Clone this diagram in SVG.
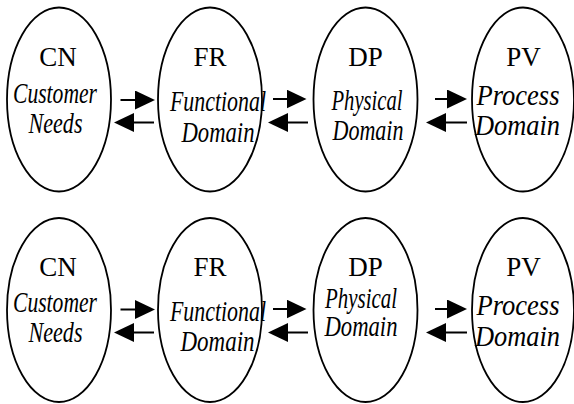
<svg xmlns="http://www.w3.org/2000/svg" width="574" height="404" viewBox="0 0 574 404">
  <style>
    .dom { fill: #fff; stroke: #000; stroke-width: 1.8; }
    .abbr { font-family: "Liberation Serif", "Times New Roman", serif; font-size: 27px; fill: #000; text-anchor: middle; }
    .name { font-family: "Liberation Serif", "Times New Roman", serif; font-size: 28.5px; font-style: italic; fill: #000; }
    .link { stroke: #000; stroke-width: 2; fill: none; marker-end: url(#head); }
  </style>
  <defs>
    <marker id="head" markerUnits="userSpaceOnUse" markerWidth="20" markerHeight="19" refX="10" refY="9.5" orient="auto">
      <path d="M0,0 L20,9.5 L0,19 z" fill="#000"/>
    </marker>
  </defs>
  <rect width="574" height="404" fill="#fff"/>

  <!-- upper chain -->
  <g id="cn-1">
    <ellipse class="dom" cx="59" cy="99.5" rx="52" ry="92"/>
    <text class="abbr" x="58" y="65.5">CN</text>
    <text class="name" x="13" y="103" textLength="84" lengthAdjust="spacingAndGlyphs">Customer</text>
    <text class="name" x="28.5" y="133" textLength="54" lengthAdjust="spacingAndGlyphs">Needs</text>
  </g>
  <g id="fr-1">
    <ellipse class="dom" cx="210" cy="99.5" rx="52" ry="92"/>
    <text class="abbr" x="210" y="65.5">FR</text>
    <text class="name" x="170" y="111" textLength="96" lengthAdjust="spacingAndGlyphs">Functional</text>
    <text class="name" x="181.5" y="141.5" textLength="73" lengthAdjust="spacingAndGlyphs">Domain</text>
  </g>
  <g id="dp-1">
    <ellipse class="dom" cx="365.5" cy="99.5" rx="52" ry="92"/>
    <text class="abbr" x="365.5" y="65.5">DP</text>
    <text class="name" x="331.5" y="110" textLength="71" lengthAdjust="spacingAndGlyphs">Physical</text>
    <text class="name" x="332.5" y="140" textLength="71" lengthAdjust="spacingAndGlyphs">Domain</text>
  </g>
  <g id="pv-1">
    <ellipse class="dom" cx="523" cy="99.5" rx="51" ry="92"/>
    <text class="abbr" x="523.5" y="65.5">PV</text>
    <text class="name" x="476.5" y="105" textLength="83" lengthAdjust="spacingAndGlyphs">Process</text>
    <text class="name" x="475" y="135" textLength="85" lengthAdjust="spacingAndGlyphs">Domain</text>
  </g>

  <!-- lower chain -->
  <g id="cn-2">
    <ellipse class="dom" cx="59" cy="310" rx="52" ry="92"/>
    <text class="abbr" x="58" y="276">CN</text>
    <text class="name" x="13" y="312" textLength="84" lengthAdjust="spacingAndGlyphs">Customer</text>
    <text class="name" x="28.5" y="342" textLength="54" lengthAdjust="spacingAndGlyphs">Needs</text>
  </g>
  <g id="fr-2">
    <ellipse class="dom" cx="210" cy="310" rx="52" ry="92"/>
    <text class="abbr" x="210" y="276">FR</text>
    <text class="name" x="170" y="320.5" textLength="96" lengthAdjust="spacingAndGlyphs">Functional</text>
    <text class="name" x="180.5" y="351" textLength="74" lengthAdjust="spacingAndGlyphs">Domain</text>
  </g>
  <g id="dp-2">
    <ellipse class="dom" cx="365.5" cy="310" rx="52" ry="92"/>
    <text class="abbr" x="365.5" y="276">DP</text>
    <text class="name" x="325" y="308" textLength="72" lengthAdjust="spacingAndGlyphs">Physical</text>
    <text class="name" x="324.5" y="336" textLength="73" lengthAdjust="spacingAndGlyphs">Domain</text>
  </g>
  <g id="pv-2">
    <ellipse class="dom" cx="523" cy="310" rx="51" ry="92"/>
    <text class="abbr" x="523.5" y="276">PV</text>
    <text class="name" x="476.5" y="315" textLength="83" lengthAdjust="spacingAndGlyphs">Process</text>
    <text class="name" x="475" y="346" textLength="85" lengthAdjust="spacingAndGlyphs">Domain</text>
  </g>

  <!-- mappings between domains -->
  <g id="connectors">
    <line class="link" x1="120.5" y1="100" x2="145" y2="100"/>
    <line class="link" x1="154" y1="122.5" x2="124" y2="122.5"/>
    <line class="link" x1="273" y1="99" x2="296.5" y2="99"/>
    <line class="link" x1="308" y1="122.5" x2="278" y2="122.5"/>
    <line class="link" x1="435" y1="99" x2="457" y2="99"/>
    <line class="link" x1="467" y1="122.5" x2="436" y2="122.5"/>

    <line class="link" x1="120.5" y1="309.5" x2="145" y2="309.5"/>
    <line class="link" x1="154" y1="332.5" x2="124" y2="332.5"/>
    <line class="link" x1="273" y1="309" x2="296.5" y2="309"/>
    <line class="link" x1="308" y1="332.5" x2="278" y2="332.5"/>
    <line class="link" x1="435" y1="309" x2="457" y2="309"/>
    <line class="link" x1="467" y1="332.5" x2="436" y2="332.5"/>
  </g>
</svg>
